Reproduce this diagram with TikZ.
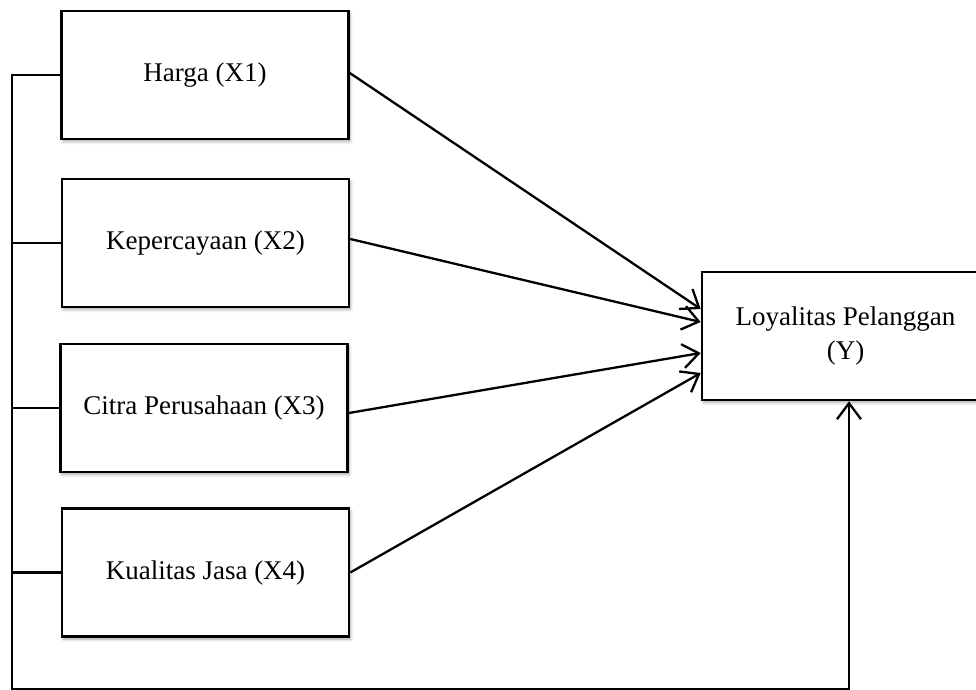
\documentclass[tikz,border=0pt]{standalone}
\usepackage{fontspec}
\setmainfont{Liberation Serif}
\usetikzlibrary{arrows.meta,shadows.blur}
\begin{document}
\begin{tikzpicture}[x=1pt,y=-1pt,
  varbox/.style={draw=black,line width=2.6pt,fill=white,minimum width=287pt,minimum height=128pt,
    inner sep=0pt,font=\fontsize{27}{34}\selectfont,align=center,
    blur shadow={shadow xshift=1.5pt,shadow yshift=-2.5pt,shadow blur radius=3pt,shadow opacity=35}},
  link/.style={line width=2.3pt},
  arr/.style={line width=2.3pt,-{Straight Barb[length=16pt,width=24pt,line width=2.3pt]}}]
\useasboundingbox (0,0) rectangle (976,689);
\node[varbox] (x1) at (205,75) {Harga (X1)};
\node[varbox] (x2) at (205.5,243) {Kepercayaan (X2)};
\node[varbox] (x3) at (204,408) {Citra Perusahaan (X3)};
\node[varbox] (x4) at (205.5,572.5) {Kualitas Jasa (X4)};
\node[varbox] (y) at (845.5,336) {Loyalitas Pelanggan\\(Y)};
\coordinate (c0) at (12,0);
\coordinate (c1) at (x1.west -| c0);
\coordinate (c4) at (12,689.5);
\coordinate (c5) at (849,689.5);
\draw[link] (x1.west) -- (c1) -- (c4) -- (c5);
\draw[link] (x2.west) -- (x2.west -| c0);
\draw[link] (x3.west) -- (x3.west -| c0);
\draw[link] (x4.west) -- (x4.west -| c0);
\draw[arr] (c5) -- ([xshift=3.5pt]y.south);
\draw[arr] ([yshift=2pt]x1.east) -- ([yshift=27pt]y.west);
\draw[arr] ([yshift=4pt]x2.east) -- ([yshift=14pt]y.west);
\draw[arr] ([yshift=-5pt]x3.east) -- ([yshift=-17pt]y.west);
\draw[arr] ([yshift=0pt]x4.east) -- ([yshift=-37pt]y.west);
\end{tikzpicture}
\end{document}
